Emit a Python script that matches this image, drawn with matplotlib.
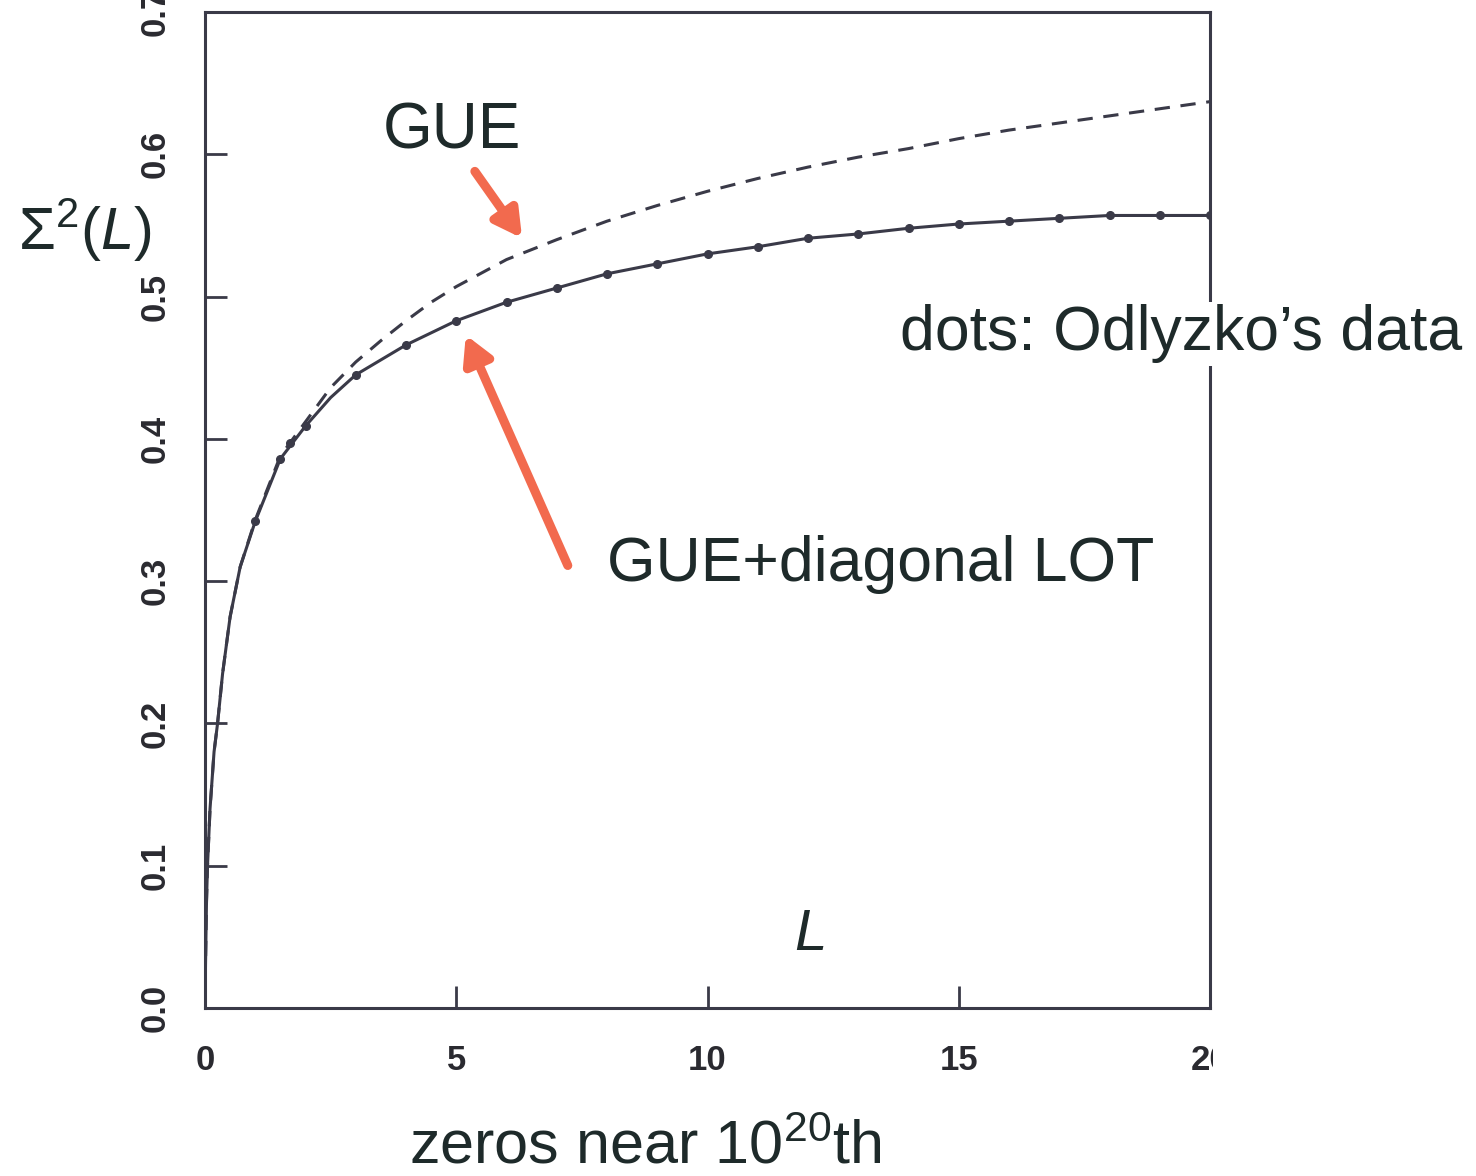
import matplotlib
matplotlib.use("Agg")
import matplotlib.pyplot as plt
from matplotlib.patches import Rectangle

plt.rcParams['font.family'] = ['Liberation Sans', 'DejaVu Sans']
plt.rcParams['mathtext.fontset'] = 'custom'
plt.rcParams['mathtext.rm'] = 'Liberation Sans'
plt.rcParams['mathtext.it'] = 'Liberation Sans:italic'

# values
L_fit = [0, 0.01, 0.03, 0.05, 0.1, 0.18, 0.25, 0.35, 0.5, 0.7, 1, 1.5, 2, 2.5, 3, 4, 5, 6, 7, 8,
         9, 10, 11, 12, 13, 14, 15, 16, 17, 18, 19, 20]
sigma_fit = [0, 0.03, 0.075, 0.1, 0.14, 0.18, 0.2, 0.235, 0.275, 0.31, 0.342, 0.386, 0.409, 0.429,
             0.445, 0.466, 0.483, 0.496, 0.506, 0.516, 0.523, 0.530, 0.535, 0.541, 0.544, 0.548,
             0.551, 0.553, 0.555, 0.557, 0.557, 0.557]

L_gue = [0, 0.01, 0.03, 0.05, 0.1, 0.18, 0.25, 0.35, 0.5, 0.7, 1, 1.5, 2, 2.5, 3, 3.5, 4, 4.5, 5,
         6, 7, 8, 9, 10, 11, 12, 13, 14, 15, 16, 17, 18, 19, 20]
sigma_gue = [0, 0.03, 0.075, 0.1, 0.14, 0.18, 0.2, 0.235, 0.275, 0.31, 0.343, 0.388, 0.412, 0.436,
             0.454, 0.469, 0.483, 0.496, 0.507, 0.526, 0.540, 0.553, 0.564, 0.574, 0.583, 0.591,
             0.598, 0.604, 0.611, 0.617, 0.622, 0.627, 0.632, 0.637]

L_dots = [1, 1.5, 1.7, 2, 3, 4, 5, 6, 7, 8, 9, 10, 11, 12, 13, 14, 15, 16, 17, 18, 19, 20]
sigma_dots = [0.342, 0.386, 0.397, 0.409, 0.445, 0.466, 0.483, 0.496, 0.506, 0.516, 0.523, 0.530,
              0.535, 0.541, 0.544, 0.548, 0.551, 0.553, 0.555, 0.557, 0.557, 0.557]

x_ticks = [0, 5, 10, 15, 20]
y_ticks = [0.0, 0.1, 0.2, 0.3, 0.4, 0.5, 0.6, 0.7]

line_col = '#3a3a48'
text_col = '#1e2a2a'
arrow_col = '#f26a4e'

fig = plt.figure(figsize=(14.76, 11.76), dpi=100)
ax = fig.add_axes([205/1476, 1 - 1008/1176, (1210 - 205)/1476, (1008 - 12)/1176])

ax.plot(L_gue, sigma_gue, color=line_col, lw=2.2, linestyle=(0, (5, 3.5)))
ax.plot(L_fit, sigma_fit, color=line_col, lw=2.2)
ax.plot(L_dots, sigma_dots, 'o', color=line_col, ms=5.5)

ax.set_xlim(0, 20)
ax.set_ylim(0, 0.7)
ax.set_xticks(x_ticks)
ax.set_xticklabels([str(t) for t in x_ticks])
ax.set_yticks(y_ticks)
ax.set_yticklabels([f'{t:.1f}' for t in y_ticks], rotation=90, va='center')
for lab in ax.get_xticklabels() + ax.get_yticklabels():
    lab.set_family(['Liberation Sans Narrow', 'Liberation Sans'])
    lab.set_fontweight('bold')
    lab.set_fontsize(25)
    lab.set_color('#2a2a30')
ax.tick_params(direction='in', length=16, width=2, color=line_col)
ax.tick_params(axis='x', pad=26)
ax.tick_params(axis='y', pad=24)
for sp in ax.spines.values():
    sp.set_linewidth(2.2)
    sp.set_color(line_col)

# annotations
arrow_style = dict(arrowstyle='-|>,head_length=1.0,head_width=0.55', color=arrow_col,
                   lw=6.5, mutation_scale=16, shrinkA=0, shrinkB=0)
ax.text(4.92, 0.616, 'GUE', fontsize=46, color=text_col, ha='center', va='center')
ax.annotate('', xy=(6.31, 0.541), xytext=(5.37, 0.588), arrowprops=arrow_style)
ax.annotate('', xy=(5.19, 0.473), xytext=(7.22, 0.311), arrowprops=arrow_style)
ax.text(8.0, 0.3, 'GUE+diagonal LOT', fontsize=45, color=text_col, ha='left', va='baseline')
ax.text(12.04, 0.051, 'L', fontsize=42, color=text_col, style='italic', ha='center', va='center')

# white mask as in the slide, cutting the last tick label
fig.patches.append(Rectangle((1213/1476, 0), 1 - 1213/1476, 1 - 1008/1176 - 0.005,
                             transform=fig.transFigure, facecolor='white', edgecolor='none',
                             zorder=5))

fig.text(1181/1476, 1 - 350/1176, 'dots: Odlyzko\u2019s data', fontsize=45, color=text_col,
         ha='center', va='baseline', zorder=6,
         bbox=dict(facecolor='white', edgecolor='none', pad=2))
fig.text(85/1476, 1 - 230/1176, r'$\Sigma^2(L)$', fontsize=43, color=text_col,
         ha='center', va='center')
fig.text(645/1476, 1 - 1163/1176, r'zeros near 10$^{20}$th', fontsize=44, color=text_col,
         ha='center', va='baseline')

fig.savefig('out.png', dpi=100, facecolor='white')
